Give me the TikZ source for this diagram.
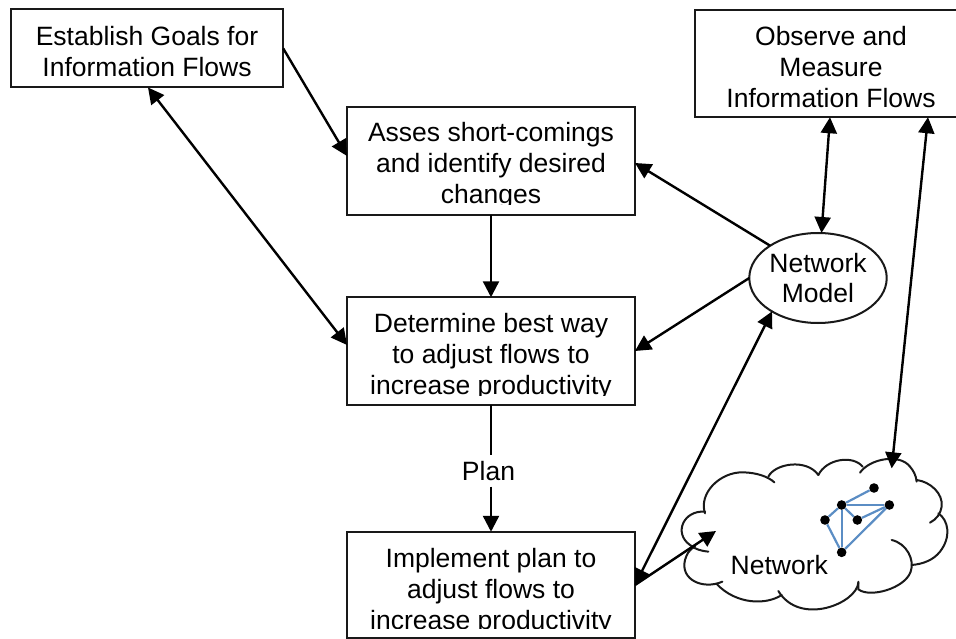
\documentclass[tikz,border=0pt]{standalone}
\usepackage{fontspec}
\setmainfont{Liberation Sans}
\usetikzlibrary{arrows.meta,shapes.geometric}
\newcommand{\boxcontent}[4]{\parbox[c][#2pt][t]{#1pt}{\vspace*{#3pt}\centering\strut #4\par}}
\tikzset{
  x=1pt,y=-1pt,
  every node/.style={font=\fontsize{26.5}{31}\selectfont,text=black},
  flowbox/.style={draw=black!90,line width=2pt,inner sep=0pt,outer sep=0pt,fill=white},
  link/.style={line width=2.4pt,draw=black,-{Triangle[length=16pt,width=16pt]}},
  bilink/.style={line width=2.4pt,draw=black,{Triangle[length=16pt,width=16pt]}-{Triangle[length=16pt,width=16pt]}},
  bare/.style={line width=2.4pt,draw=black},
  cloudline/.style={line width=2pt,draw=black!90,line cap=round},
  netdot/.style={circle,fill=black,inner sep=0pt,minimum size=9.6pt},
  netedge/.style={line width=2.2pt,draw=netblue},
  mask/.style={fill=white,draw=none}
}
\definecolor{netblue}{HTML}{5B8DC4}
\begin{document}
\begin{tikzpicture}
\clip (0,0) rectangle (956,639);
% boxes
\node[flowbox] (goals) at (147,48.5) {\boxcontent{272.5}{78}{14}{Establish Goals for\\Information Flows}};
\node[flowbox] (asses) at (491,161) {\boxcontent{288}{107.5}{12.8}{Asses short-comings\\and identify desired\\changes}};
\node[flowbox] (determine) at (491,351) {\boxcontent{288}{107.5}{13.8}{Determine best way\\to adjust flows to\\increase productivity}};
\node[flowbox] (implement) at (491,585) {\boxcontent{288}{106.5}{14}{Implement plan to\\adjust flows to\\increase productivity}};
\node[flowbox] (observe) at (831,63.5) {\boxcontent{272}{107.5}{14}{Observe and\\Measure\\Information Flows}};
% clipped descenders
\fill[mask] (349,205) rectangle (633,214);
\fill[mask] (349,395.5) rectangle (633,404);
\fill[mask] (349,629) rectangle (633,637);
% model
\node[flowbox,ellipse,minimum width=136pt,minimum height=90pt,align=center,font=\fontsize{26.5}{29.5}\selectfont] (model) at (818,278) {Network\\Model};
% cloud
\begin{scope}[shift={(640,430)},x=0.33333pt,y=-0.33333pt]
\draw[cloudline] (195,245) .. controls (130,240) and (100,310) .. (150,345) .. controls (165,358) and (185,363) .. (205,365);
\draw[cloudline] (195,250) .. controls (175,190) and (240,125) .. (310,127) .. controls (350,128) and (385,140) .. (403,157);
\draw[cloudline] (385,140) .. controls (405,100) and (500,85) .. (535,135);
\draw[cloudline] (535,135) .. controls (560,85) and (640,75) .. (668,110);
\draw[cloudline] (660,128) .. controls (690,85) and (780,70) .. (810,110) .. controls (820,122) and (828,135) .. (830,155);
\draw[cloudline] (830,150) .. controls (870,155) and (910,190) .. (905,230) .. controls (902,250) and (890,268) .. (870,278);
\draw[cloudline] (895,250) .. controls (925,270) and (935,320) .. (900,365) .. controls (880,390) and (850,402) .. (815,405);
\draw[cloudline] (755,330) .. controls (800,340) and (825,390) .. (812,425) .. controls (795,475) and (690,505) .. (655,478) -- (655,455);
\draw[cloudline] (655,458) .. controls (650,520) and (480,590) .. (415,483);
\draw[cloudline] (425,495) .. controls (380,525) and (290,525) .. (230,462);
\draw[cloudline] (247,455) .. controls (190,480) and (120,450) .. (135,390) .. controls (140,375) and (145,360) .. (165,350);
\node[netdot] (n1) at (702,174) {};
\node[netdot] (n2) at (605,225) {};
\node[netdot] (n3) at (748,225) {};
\node[netdot] (n4) at (652,270) {};
\node[netdot] (n5) at (555,270) {};
\node[netdot] (n6) at (605,367) {};
\draw[netedge] (n2) -- (n1);
\draw[netedge] (n2) -- (n3);
\draw[netedge] (n2) -- (n4);
\draw[netedge] (n2) -- (n5);
\draw[netedge] (n2) -- (n6);
\draw[netedge] (n5) -- (n6);
\draw[netedge] (n3) -- (n4);
\draw[netedge] (n3) -- (n6);
\coordinate (cloudin) at (228,303);
\coordinate (cloudtop) at (755,115);
\node (network) at (418,405) {Network};
\end{scope}
% connectors
\draw[link] (goals.east) -- ([yshift=5pt]asses.west);
\draw[bilink] ([xshift=1pt]goals.south) -- ([yshift=6pt]determine.west);
\draw[link] (asses.south) -- (determine.north);
\node[fill=white,inner sep=0pt,minimum height=31pt] (plan) at (488.5,471) {Plan};
\draw[bare] (determine.south) -- (determine.south |- plan.north);
\draw[link] (implement.north |- plan.south) -- (implement.north);
\draw[link] (model.146) -- ([yshift=-2pt]asses.east);
\draw[link] (model.west) -- (determine.east);
\draw[bilink] (implement.east) -- (model.216);
\draw[link] (implement.east) -- (cloudin);
\draw[bilink] ([xshift=-1pt]observe.south) -- ([xshift=3.5pt]model.north);
\draw[bilink] ([xshift=97pt]observe.south) -- (cloudtop);
\end{tikzpicture}
\end{document}
